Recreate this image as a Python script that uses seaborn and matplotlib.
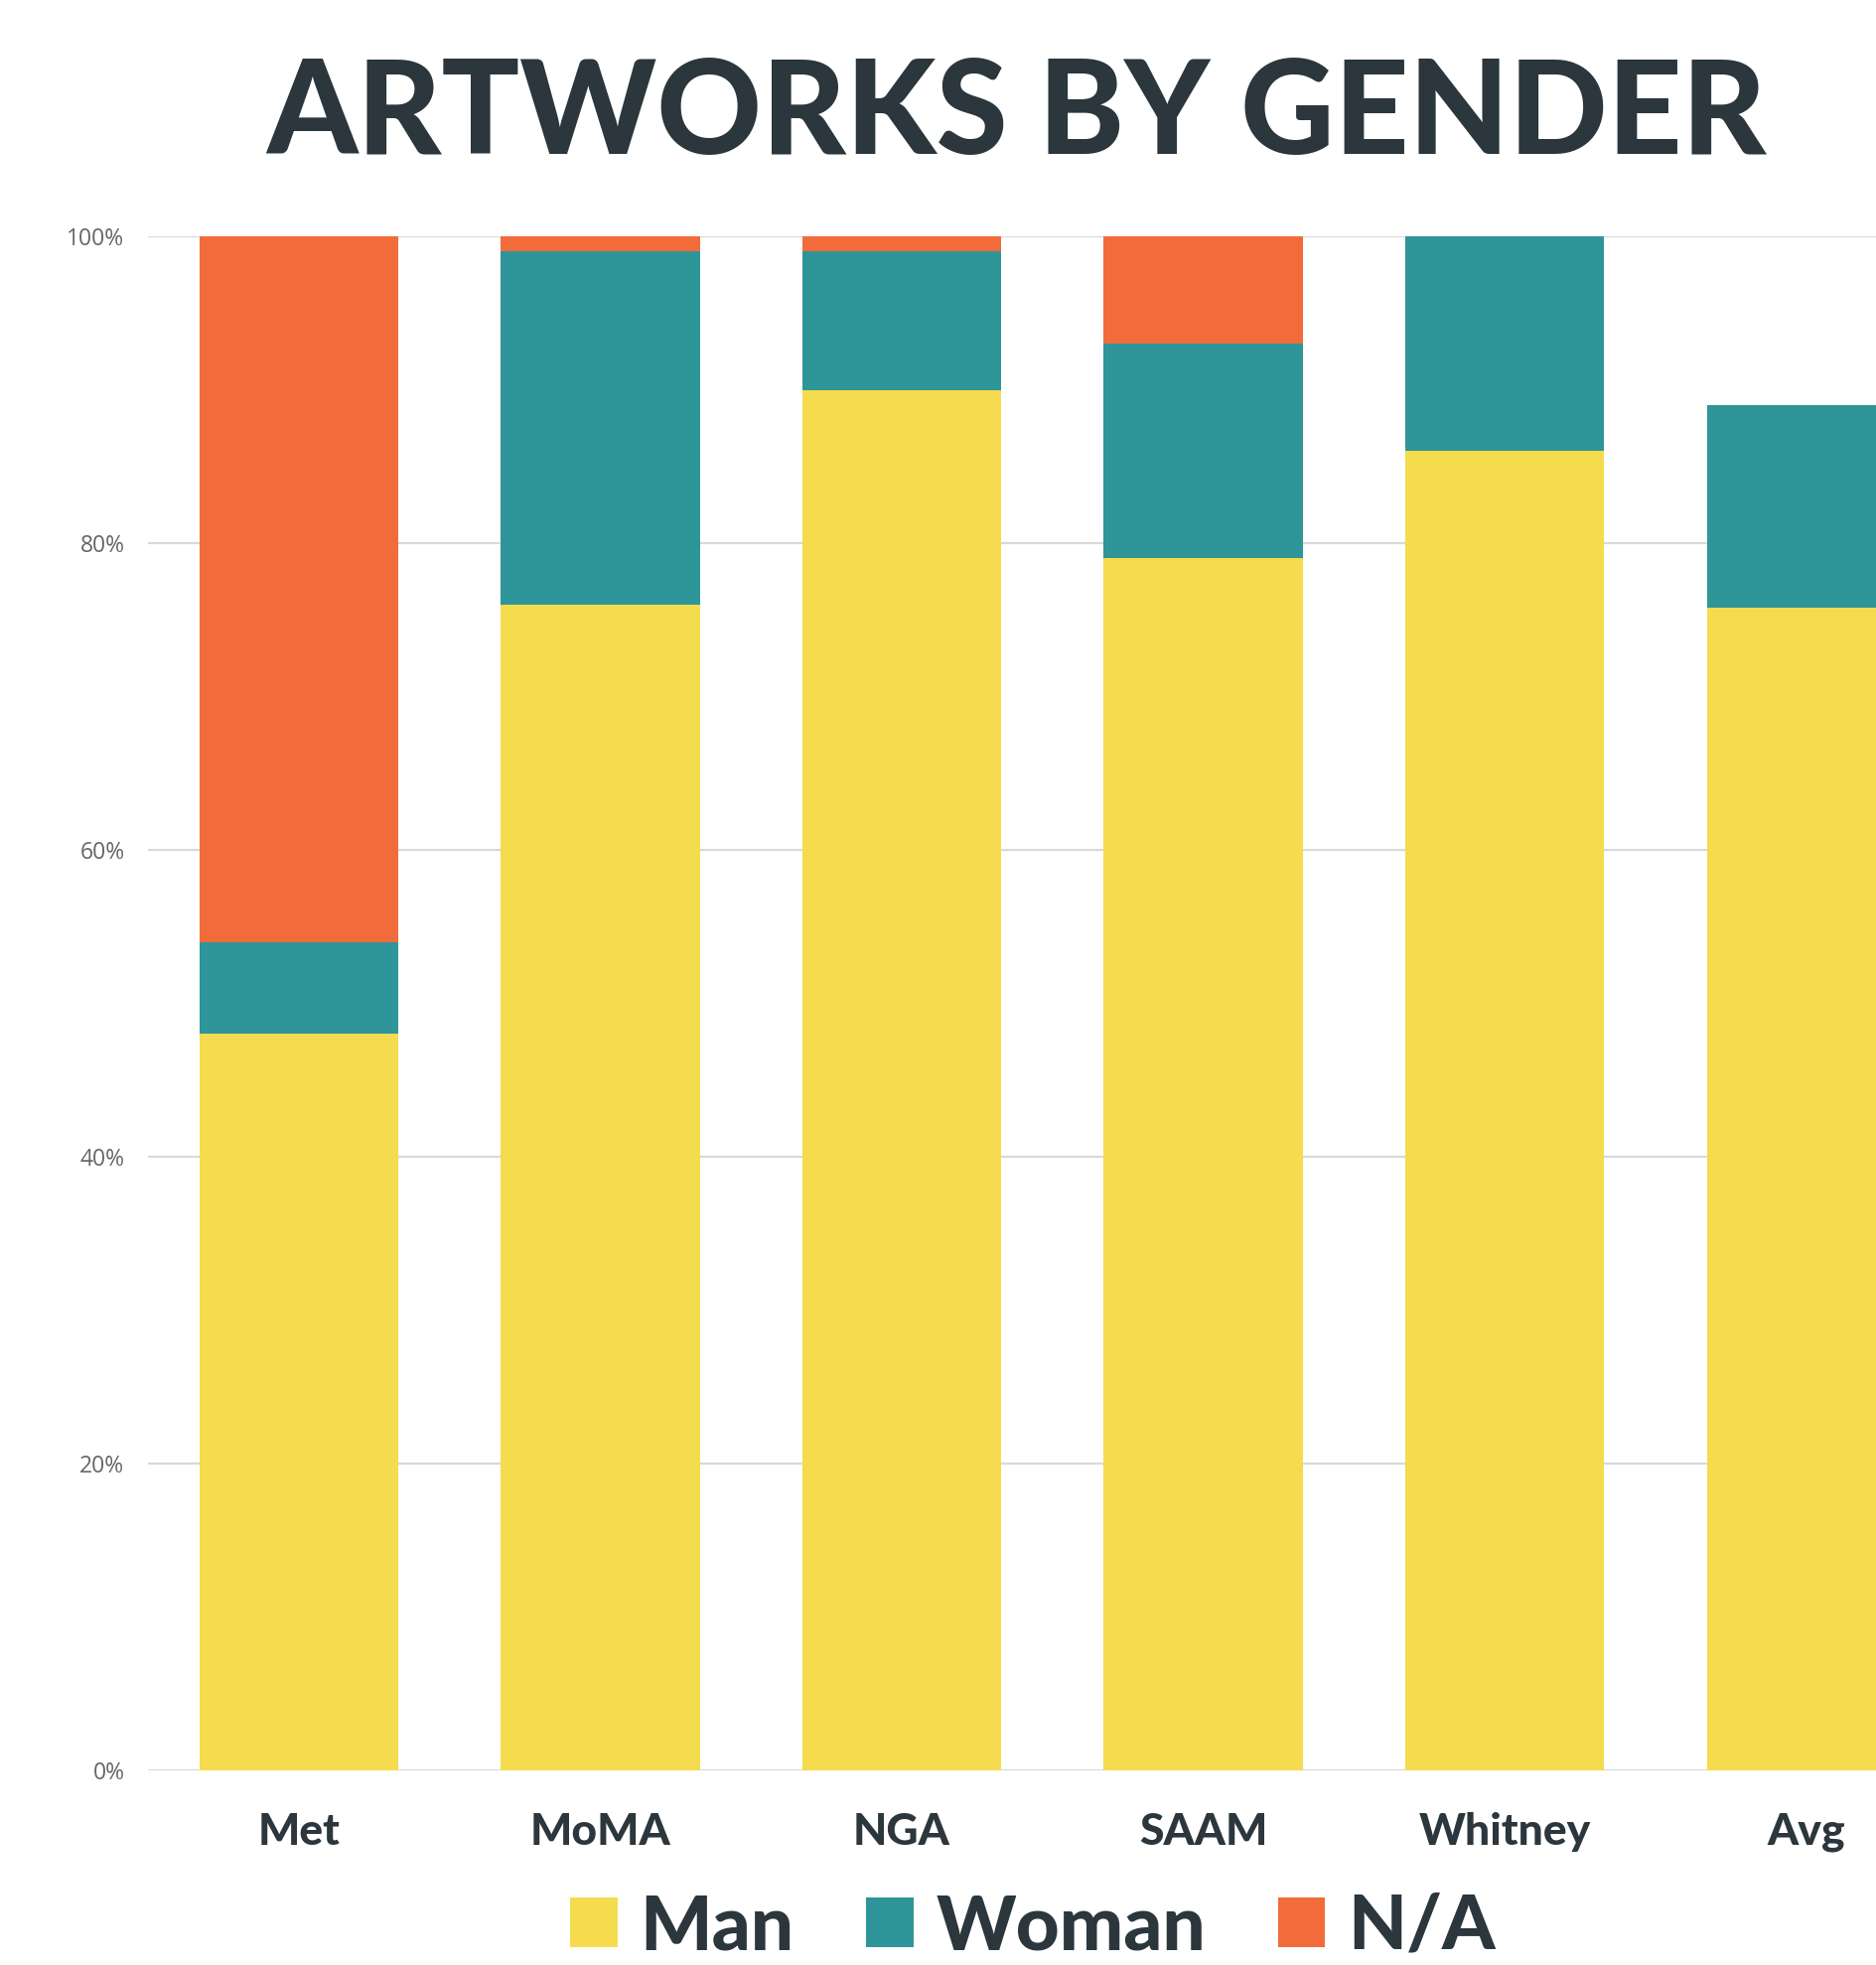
import matplotlib
matplotlib.use("Agg")
import matplotlib.pyplot as plt
import matplotlib.patches as mpatches
from matplotlib.ticker import PercentFormatter
import seaborn as sns
import numpy as np

# ---- data ----
categories = ["Met", "MoMA", "NGA", "SAAM", "Whitney", "Avg"]
man   = [48, 76, 90, 79, 86, 75.8]
woman = [6, 23, 9, 14, 14, 13.2]
na    = [46, 1, 1, 7, 0, 0]
series_names = ["Man", "Woman", "N/A"]
yticks = [0, 20, 40, 60, 80, 100]

colors = {"Man": "#F5DB4E", "Woman": "#2E9598", "N/A": "#F26B3A"}
dark = "#2B363D"

sns.set_theme(style="white")
plt.rcParams["font.family"] = ["Lato", "DejaVu Sans"]

W, H = 1890, 1979
fig = plt.figure(figsize=(W / 100, H / 100), dpi=100)
fig.patch.set_facecolor("white")

# axes: left edge 149px, x range -0.5..5.5 with 303.6 px per category (extends past right edge)
left = 149 / W
ax_w = (6 * 303.6) / W
bottom = 1 - 1783 / H
top = 1 - 238 / H
ax = fig.add_axes([left, bottom, ax_w, top - bottom])

man_a = np.array(man)
woman_a = np.array(woman)
na_a = np.array(na)
layers = [
    ("N/A", man_a + woman_a + na_a),
    ("Woman", man_a + woman_a),
    ("Man", man_a),
]
for name, vals in layers:
    sns.barplot(x=categories, y=vals, color=colors[name], saturation=1,
                width=0.66, ax=ax, linewidth=0, zorder=3)

ax.set_xlim(-0.5, 5.5)
ax.set_ylim(0, 100)
ax.set_yticks(yticks)
ax.yaxis.set_major_formatter(PercentFormatter(decimals=0))
ax.yaxis.grid(True, color="#D9D9D9", linewidth=1.6, zorder=0)
ax.xaxis.grid(False)
ax.set_axisbelow(True)
for s in ax.spines.values():
    s.set_visible(False)
ax.tick_params(axis="y", length=0, pad=17, labelsize=16.5, labelcolor="#666666")
ax.tick_params(axis="x", length=0, pad=30, labelsize=32, labelcolor=dark)
for lab in ax.get_yticklabels():
    lab.set_fontfamily(["Open Sans", "DejaVu Sans"])
for lab in ax.get_xticklabels():
    lab.set_fontweight("black")
ax.set_xlabel("")
ax.set_ylabel("")

# title
fig.text(1023 / W, 1 - 117 / H, "ARTWORKS BY GENDER", ha="center", va="center",
         fontsize=94, fontweight="black", color=dark)

# legend
handles = [mpatches.Patch(facecolor=colors[n], edgecolor="none", label=n) for n in series_names]
leg = fig.legend(handles=handles, loc="center", bbox_to_anchor=(1040 / W, 1 - 1941 / H),
                 ncol=3, frameon=False, prop={"size": 55, "weight": "black"},
                 handlelength=0.62, handleheight=0.62, handletextpad=0.3,
                 columnspacing=0.95, borderpad=0, borderaxespad=0)
for t in leg.get_texts():
    t.set_color(dark)

fig.savefig("out.png", dpi=100, facecolor="white")
